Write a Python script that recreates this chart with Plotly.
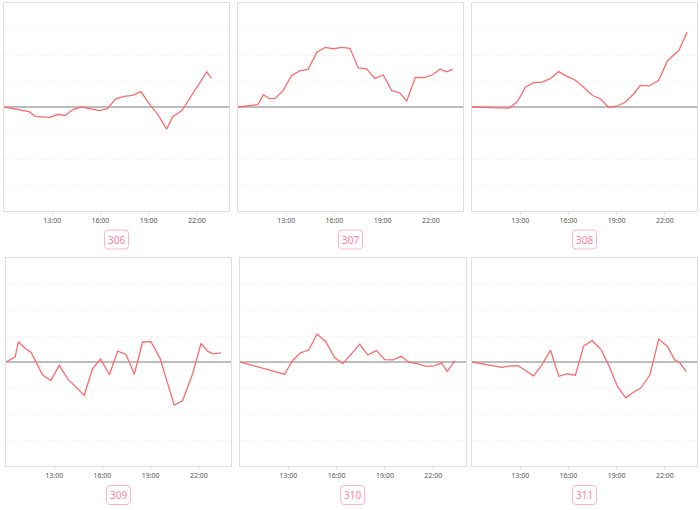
import plotly.graph_objects as go

DAY = "2024-01-01 "

ROOMS = ["306", "307", "308", "309", "310", "311"]

TIMES_306 = ["10:00", "11:34", "11:56", "12:52", "13:23", "13:48", "14:19", "14:50", "15:56", "16:26",
             "16:57", "17:29", "18:00", "18:31", "19:05", "19:36", "20:07", "20:30", "21:04", "21:34",
             "22:05", "22:37", "22:55"]
VALUES_306 = [0, -0.18, -0.36, -0.40, -0.28, -0.33, -0.09, 0, -0.14, -0.06,
              0.31, 0.41, 0.45, 0.59, 0.08, -0.31, -0.85, -0.37, -0.14, 0.33,
              0.82, 1.35, 1.10]

TIMES_307 = ["10:00", "11:14", "11:35", "11:57", "12:18", "12:49", "13:20", "13:52", "14:22", "14:54",
             "15:25", "15:56", "16:27", "16:58", "17:29", "18:00", "18:31", "19:02", "19:34", "20:04",
             "20:30", "21:02", "21:35", "22:07", "22:34", "22:59", "23:22"]
VALUES_307 = [0, 0.09, 0.47, 0.32, 0.32, 0.64, 1.21, 1.40, 1.45, 2.10,
              2.29, 2.24, 2.29, 2.26, 1.50, 1.47, 1.10, 1.23, 0.63, 0.54,
              0.23, 1.14, 1.13, 1.24, 1.46, 1.35, 1.45]

TIMES_308 = ["10:00", "12:19", "12:50", "13:19", "13:50", "14:22", "14:52", "15:23", "15:55", "16:26",
             "16:57", "17:30", "17:59", "18:30", "19:01", "19:32", "20:04", "20:28", "21:02", "21:37",
             "22:10", "22:52", "23:23"]
VALUES_308 = [0, -0.04, 0.21, 0.76, 0.94, 0.96, 1.09, 1.36, 1.18, 1.03,
              0.76, 0.44, 0.32, -0.01, 0.03, 0.18, 0.51, 0.83, 0.81, 1.03,
              1.78, 2.17, 2.87]

TIMES_309 = ["10:00", "10:34", "10:46", "11:11", "11:34", "12:16", "12:47", "13:19", "13:50", "14:52",
             "15:23", "15:53", "16:26", "16:57", "17:28", "17:59", "18:30", "19:01", "19:35", "20:28",
             "20:59", "21:37", "22:08", "22:35", "22:54", "23:23"]
VALUES_309 = [0, 0.19, 0.78, 0.53, 0.37, -0.49, -0.71, -0.13, -0.65, -1.28,
              -0.26, 0.12, -0.49, 0.42, 0.29, -0.47, 0.77, 0.78, 0.14, -1.66,
              -1.49, -0.44, 0.71, 0.40, 0.31, 0.35]

TIMES_310 = ["10:00", "12:46", "13:16", "13:45", "14:16", "14:47", "15:19", "15:52", "16:23", "16:55",
             "17:26", "17:56", "18:28", "18:59", "19:30", "20:01", "20:28", "20:59", "21:34", "22:02",
             "22:31", "22:52", "23:20"]
VALUES_310 = [0, -0.47, 0.06, 0.35, 0.46, 1.08, 0.79, 0.17, -0.06, 0.31,
              0.68, 0.27, 0.44, 0.09, 0.08, 0.22, -0.01, -0.06, -0.17, -0.15,
              -0.04, -0.36, 0.04]

TIMES_311 = ["10:00", "11:52", "12:21", "12:52", "13:50", "14:19", "14:53", "15:24", "15:55", "16:26",
             "16:57", "17:29", "18:01", "18:31", "19:03", "19:34", "20:01", "20:30", "21:04", "21:37",
             "22:10", "22:37", "22:56", "23:20"]
VALUES_311 = [0, -0.21, -0.15, -0.14, -0.53, -0.14, 0.45, -0.55, -0.46, -0.51,
              0.62, 0.82, 0.49, -0.14, -0.94, -1.38, -1.17, -1.0, -0.5, 0.88,
              0.60, 0.08, -0.03, -0.37]

TICK_LABELS = ["13:00", "16:00", "19:00", "22:00"]

SERIES = [
    (TIMES_306, VALUES_306), (TIMES_307, VALUES_307), (TIMES_308, VALUES_308),
    (TIMES_309, VALUES_309), (TIMES_310, VALUES_310), (TIMES_311, VALUES_311),
]

W, H = 700, 510
# panel pixel boxes (left, right, top, bottom)
PANELS = [
    (4, 229, 3, 211), (238, 463, 3, 211), (472, 697, 3, 211),
    (6, 231, 258, 466), (240, 465.5, 258, 466), (472, 697, 258, 466),
]

LINE_COLOR = "#ff6b6b"
PINK_TEXT = "#ff7fa3"
PINK_BORDER = "#ffb3c8"

fig = go.Figure()
layout = dict(
    width=W, height=H,
    margin=dict(l=0, r=0, t=0, b=0),
    paper_bgcolor="white", plot_bgcolor="white",
    showlegend=False,
    font=dict(family="Noto Sans, Open Sans, sans-serif", color="#555"),
)

shapes = []
annotations = []


def px_x(v):
    return v / W


def px_y(v):
    return 1 - v / H


def rounded_box(cx, cy, w, h, r):
    x0, x1 = cx - w / 2, cx + w / 2
    y0, y1 = cy - h / 2, cy + h / 2
    pts = [
        ("M", x0 + r, y0), ("L", x1 - r, y0), ("Q", x1, y0, x1, y0 + r),
        ("L", x1, y1 - r), ("Q", x1, y1, x1 - r, y1), ("L", x0 + r, y1),
        ("Q", x0, y1, x0, y1 - r), ("L", x0, y0 + r), ("Q", x0, y0, x0 + r, y0),
    ]
    parts = []
    for p in pts:
        cmd = p[0]
        coords = p[1:]
        s = []
        for i in range(0, len(coords), 2):
            s.append(f"{px_x(coords[i]):.5f},{px_y(coords[i + 1]):.5f}")
        parts.append(cmd + " " + " ".join(s))
    return " ".join(parts) + " Z"


for i, ((times, vals), room, (l, r, t, b)) in enumerate(zip(SERIES, ROOMS, PANELS)):
    n = "" if i == 0 else str(i + 1)
    xa, ya = "xaxis" + n, "yaxis" + n
    fig.add_trace(go.Scatter(
        x=[DAY + tm for tm in times], y=vals, mode="lines",
        line=dict(color=LINE_COLOR, width=1.3),
        xaxis="x" + n, yaxis="y" + n, hoverinfo="skip",
    ))
    layout[xa] = dict(
        domain=[px_x(l), px_x(r)], anchor="y" + n, type="date",
        range=[DAY + "10:00", "2024-01-02 00:00"],
        tickvals=[DAY + tl for tl in TICK_LABELS], ticktext=TICK_LABELS,
        showgrid=False, zeroline=False,
        showline=True, mirror=True, linecolor="#dedede", linewidth=1,
        ticks="outside", ticklen=3, tickcolor="#dedede",
        tickfont=dict(size=7, color="#555"),
        fixedrange=True,
    )
    layout[ya] = dict(
        domain=[px_y(b), px_y(t)], anchor="x" + n,
        range=[-4, 4], dtick=1, tick0=0,
        showgrid=True, gridcolor="#f3f3f3", griddash="dot", gridwidth=1,
        zeroline=True, zerolinecolor="#bdbdbd", zerolinewidth=1.5,
        showline=True, mirror=True, linecolor="#dedede", linewidth=1,
        showticklabels=False, ticks="",
        fixedrange=True,
    )
    cx = (l + r) / 2
    cy = 239.5 if i < 3 else 495
    shapes.append(dict(
        type="path", xref="paper", yref="paper",
        path=rounded_box(cx, cy, 24, 19, 3.5),
        line=dict(color=PINK_BORDER, width=1), fillcolor="white", layer="above",
    ))
    annotations.append(dict(
        x=px_x(cx), y=px_y(cy), xref="paper", yref="paper",
        text=room, showarrow=False, xanchor="center", yanchor="middle",
        font=dict(size=10, color=PINK_TEXT),
    ))

layout["shapes"] = shapes
layout["annotations"] = annotations
fig.update_layout(**layout)
fig.write_html(
    "out.html",
    config={"displayModeBar": False},
    post_script="document.body.style.margin='0';document.body.style.overflow='hidden';",
)
